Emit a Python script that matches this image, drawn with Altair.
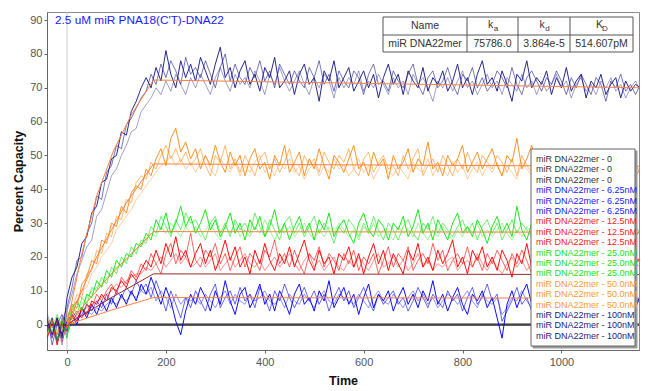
import altair as alt
import pandas as pd

FONT = "Liberation Sans"

# sample times (s): -40 ... 1160 every 10 s
TIME = list(range(-40, 1161, 10))

# ---- traces (Percent Capacity) ----
ZERO_1 = [0] * 121
ZERO_2 = [0] * 121
ZERO_3 = [0] * 121

B625_1 = [0, -4, 2, -3, 1, 3, 0, 5, 2, 6,
          3, 7, 4, 8, 5, 9, 6, 10, 7, 12,
          9, 14, 10, 6, 11, 7, 1, -3, 4, 9,
          6, 11, 8, 4, 10, 6, 13, 7, 3, 9,
          11, 5, 8, 12, 6, 9, 4, 10, 7, 3,
          9, 12, 6, 8, 4, 10, 7, 13, 5, 8,
          11, 6, 9, 3, 8, 12, 5, 9, 7, 10,
          4, 8, 11, 6, 9, 5, 10, 7, 13, 6,
          9, 4, 8, 11, 6, 3, 9, 7, 10, 5,
          8, 2, -4, 6, 10, 5, 9, 12, 6, 8,
          4, 9, 7, 11, 5, 8, 3, 10, 6, 9,
          7, 11, 5, 8, 4, 9, 12, 6, 8, 5,
          9]
B625_2 = [2, -6, 0, 3, -2, 4, 2, 3, 6, 4,
          7, 5, 9, 6, 10, 8, 11, 9, 13, 10,
          12, 8, 13, 9, 4, 10, 6, 2, 8, 5,
          10, 7, 4, 9, 12, 5, 8, 10, 6, 11,
          7, 9, 5, 11, 8, 4, 10, 7, 12, 8,
          5, 8, 11, 7, 10, 6, 9, 4, 8, 11,
          7, 10, 5, 8, 11, 7, 4, 9, 6, 8,
          10, 6, 8, 4, 7, 11, 8, 5, 9, 7,
          5, 10, 7, 9, 4, 8, 11, 6, 8, 12,
          7, 9, 1, 4, 7, 11, 6, 8, 4, 10,
          8, 5, 11, 7, 9, 4, 8, 6, 10, 7,
          9, 6, 8, 12, 7, 5, 9, 7, 4, 8,
          6]
B625_3 = [-2, 1, -4, 0, -3, 1, 3, 2, 4, 3,
          5, 4, 6, 7, 6, 8, 7, 9, 8, 10,
          9, 11, 7, 10, 8, 5, 9, 6, 8, 7,
          8, 6, 9, 7, 5, 8, 10, 6, 9, 7,
          6, 9, 7, 8, 10, 7, 6, 8, 5, 9,
          7, 6, 9, 7, 5, 8, 10, 7, 6, 9,
          8, 7, 6, 9, 7, 5, 8, 10, 7, 6,
          9, 7, 5, 8, 10, 7, 9, 6, 8, 5,
          7, 9, 8, 6, 8, 10, 7, 5, 9, 7,
          6, 8, 3, 5, 8, 7, 10, 7, 5, 8,
          9, 7, 6, 8, 10, 7, 5, 8, 7, 9,
          6, 8, 10, 7, 5, 8, 7, 9, 6, 8,
          7]

R125_1 = [-4, 1, -6, 0, -2, 3, 1, 5, 3, 7,
          6, 9, 7, 11, 10, 13, 11, 15, 13, 16,
          19, 17, 22, 18, 24, 20, 26, 19, 22, 17,
          21, 24, 18, 22, 16, 20, 25, 19, 23, 17,
          20, 15, 22, 18, 24, 19, 16, 21, 18, 23,
          17, 21, 25, 19, 16, 22, 18, 20, 15, 21,
          19, 23, 17, 21, 15, 20, 24, 18, 22, 16,
          21, 18, 15, 22, 19, 24, 17, 20, 16, 22,
          18, 21, 25, 17, 20, 15, 22, 19, 23, 17,
          20, 16, 22, 19, 14, 21, 18, 24, 17, 20,
          18, 22, 16, 20, 23, 17, 21, 15, 19, 22,
          17, 20, 23, 18, 15, 21, 19, 16, 22, 18,
          20]
R125_2 = [2, -3, 1, -5, 0, 2, 4, 2, 6, 5,
          9, 7, 10, 12, 9, 14, 12, 16, 14, 18,
          16, 21, 18, 15, 21, 24, 18, 22, 20, 27,
          19, 17, 22, 20, 24, 18, 21, 16, 20, 23,
          17, 21, 19, 16, 22, 20, 25, 18, 21, 17,
          22, 18, 15, 21, 19, 23, 17, 21, 19, 16,
          21, 18, 22, 16, 20, 18, 21, 15, 19, 23,
          17, 21, 19, 23, 16, 19, 21, 18, 24, 19,
          22, 16, 19, 21, 18, 23, 17, 20, 16, 21,
          18, 22, 19, 16, 21, 18, 22, 19, 15, 21,
          20, 17, 21, 19, 15, 20, 18, 22, 17, 19,
          21, 18, 16, 20, 22, 17, 19, 21, 17, 20,
          18]
R125_3 = [-1, 0, -3, 1, -1, 1, 2, 4, 5, 6,
          7, 8, 9, 10, 12, 11, 13, 14, 15, 15,
          17, 16, 18, 20, 17, 19, 21, 18, 20, 17,
          18, 20, 17, 19, 21, 16, 18, 20, 17, 19,
          21, 18, 17, 19, 16, 18, 20, 17, 19, 21,
          18, 16, 19, 21, 17, 19, 16, 18, 20, 17,
          16, 19, 17, 20, 18, 16, 19, 21, 17, 18,
          20, 17, 19, 16, 18, 21, 17, 19, 16, 18,
          17, 19, 20, 16, 18, 19, 17, 21, 18, 16,
          19, 17, 15, 18, 20, 17, 19, 16, 18, 20,
          17, 19, 18, 16, 19, 21, 17, 18, 16, 19,
          18, 16, 19, 17, 20, 18, 16, 19, 17, 18,
          17]

G25_1 = [-3, 2, -5, 1, -4, 5, 7, 4, 9, 8,
         13, 11, 16, 14, 19, 17, 21, 20, 24, 23,
         27, 25, 31, 28, 33, 27, 30, 35, 29, 32,
         27, 30, 34, 28, 31, 26, 29, 33, 27, 30,
         25, 31, 28, 32, 26, 29, 34, 27, 30, 25,
         29, 32, 27, 30, 25, 31, 28, 33, 26, 29,
         31, 27, 24, 30, 33, 28, 26, 31, 29, 25,
         30, 28, 32, 26, 29, 34, 27, 30, 25, 31,
         28, 25, 30, 33, 27, 29, 26, 31, 28, 24,
         29, 32, 27, 30, 26, 35, 28, 25, 30, 27,
         31, 26, 29, 27, 32, 25, 28, 30, 26, 29,
         27, 31, 25, 29, 33, 27, 24, 29, 31, 26,
         28]
G25_2 = [1, -2, 3, -1, 2, 6, 3, 8, 6, 11,
         10, 14, 12, 17, 15, 20, 18, 23, 21, 25,
         24, 29, 27, 32, 29, 26, 31, 28, 33, 30,
         31, 28, 25, 30, 32, 27, 30, 26, 31, 28,
         30, 27, 33, 29, 26, 31, 28, 25, 30, 32,
         27, 30, 26, 29, 32, 27, 30, 28, 24, 29,
         27, 31, 29, 26, 30, 27, 32, 28, 25, 30,
         28, 25, 29, 31, 27, 25, 30, 28, 32, 27,
         30, 28, 26, 29, 31, 27, 30, 25, 29, 31,
         27, 30, 25, 28, 31, 27, 30, 28, 26, 30,
         28, 31, 27, 25, 29, 31, 26, 29, 27, 31,
         29, 26, 30, 28, 25, 30, 28, 31, 27, 29,
         27]
G25_3 = [0, 1, -2, 2, 0, 3, 5, 6, 8, 10,
         11, 12, 14, 15, 17, 18, 19, 21, 22, 24,
         25, 27, 26, 29, 27, 30, 28, 26, 29, 27,
         29, 26, 28, 30, 27, 25, 29, 27, 30, 26,
         28, 26, 29, 27, 31, 28, 25, 28, 27, 29,
         26, 28, 30, 27, 25, 28, 26, 29, 27, 30,
         28, 26, 28, 25, 29, 27, 30, 26, 28, 27,
         25, 29, 27, 28, 26, 30, 27, 25, 28, 26,
         29, 27, 25, 28, 26, 29, 27, 30, 26, 28,
         26, 28, 30, 27, 25, 28, 26, 29, 27, 25,
         29, 27, 25, 28, 30, 27, 29, 26, 28, 27,
         25, 28, 27, 30, 26, 28, 25, 27, 29, 26,
         28]

O50_1 = [-2, 1, -3, 2, 1, 6, 5, 12, 14, 19,
         18, 25, 24, 30, 29, 35, 33, 39, 41, 40,
         46, 44, 49, 52, 47, 55, 58, 51, 54, 49,
         52, 46, 50, 47, 53, 48, 45, 51, 47, 50,
         44, 49, 52, 46, 48, 43, 50, 47, 53, 45,
         48, 51, 44, 49, 46, 52, 47, 43, 50, 48,
         45, 49, 53, 46, 48, 44, 51, 47, 49, 43,
         50, 46, 48, 52, 45, 49, 47, 54, 46, 48,
         44, 50, 47, 49, 53, 45, 48, 51, 46, 49,
         52, 47, 44, 50, 48, 55, 46, 49, 53, 47,
         45, 49, 52, 46, 48, 44, 50, 47, 51, 45,
         48, 44, 49, 46, 50, 43, 47, 45, 49, 44,
         46]
O50_2 = [1, -4, 2, -1, 3, 4, 9, 8, 15, 16,
         22, 21, 27, 26, 32, 31, 37, 36, 42, 44,
         43, 48, 46, 50, 53, 49, 52, 48, 51, 47,
         49, 52, 47, 44, 50, 48, 53, 46, 49, 45,
         50, 47, 44, 49, 51, 46, 49, 45, 48, 52,
         46, 44, 50, 47, 49, 45, 51, 48, 46, 50,
         48, 52, 46, 44, 49, 51, 45, 48, 50, 46,
         47, 44, 50, 46, 49, 52, 44, 47, 49, 45,
         50, 47, 44, 49, 46, 51, 47, 45, 50, 48,
         46, 50, 48, 45, 49, 44, 50, 47, 45, 49,
         48, 45, 47, 50, 44, 48, 46, 51, 45, 47,
         45, 49, 46, 44, 48, 45, 47, 43, 46, 48,
         44]
O50_3 = [0, 2, 0, -2, 4, 2, 7, 10, 11, 15,
         17, 20, 22, 24, 28, 30, 32, 34, 37, 39,
         41, 43, 45, 47, 48, 50, 47, 49, 46, 48,
         45, 48, 50, 46, 44, 49, 47, 45, 48, 44,
         47, 45, 48, 50, 45, 47, 44, 48, 46, 49,
         45, 47, 43, 46, 48, 44, 47, 45, 49, 46,
         47, 44, 46, 49, 45, 47, 43, 46, 48, 45,
         44, 47, 45, 43, 48, 46, 45, 49, 44, 47,
         46, 44, 48, 45, 47, 43, 46, 48, 44, 47,
         45, 48, 44, 47, 45, 43, 48, 46, 44, 47,
         46, 43, 47, 45, 48, 44, 46, 43, 47, 45,
         44, 47, 45, 42, 46, 44, 47, 45, 43, 46,
         45]

N100_1 = [1, -3, 2, -4, 8, 14, 17, 24, 26, 33,
          35, 42, 43, 49, 50, 57, 56, 63, 66, 70,
          73, 70, 76, 72, 81, 74, 70, 78, 73, 77,
          72, 79, 75, 71, 77, 82, 73, 76, 70, 75,
          78, 71, 74, 69, 76, 73, 79, 70, 72, 75,
          68, 74, 77, 71, 73, 66, 75, 72, 78, 70,
          73, 76, 69, 72, 75, 70, 74, 67, 73, 77,
          71, 74, 68, 75, 72, 70, 76, 69, 73, 71,
          75, 69, 72, 77, 70, 73, 68, 74, 78, 71,
          73, 69, 75, 71, 66, 74, 72, 78, 70, 73,
          71, 75, 68, 73, 70, 76, 69, 72, 74, 67,
          72, 70, 74, 68, 71, 73, 67, 72, 69, 71,
          70]
N100_2 = [-2, 2, -5, 1, 5, 11, 19, 20, 27, 30,
          38, 37, 45, 47, 53, 52, 59, 61, 64, 67,
          69, 74, 71, 77, 73, 78, 75, 71, 79, 74,
          76, 73, 78, 74, 70, 76, 80, 72, 77, 73,
          71, 76, 73, 78, 72, 75, 70, 77, 74, 71,
          75, 72, 70, 76, 73, 78, 71, 74, 69, 75,
          72, 70, 75, 73, 68, 74, 77, 71, 72, 69,
          75, 72, 70, 74, 77, 71, 68, 73, 75, 70,
          72, 76, 71, 68, 74, 72, 76, 70, 73, 69,
          71, 75, 73, 70, 76, 71, 68, 73, 75, 72,
          69, 73, 71, 75, 72, 68, 73, 70, 74, 71,
          68, 73, 71, 66, 72, 70, 74, 69, 71, 68,
          71]
N100_3 = [3, -1, 1, -6, 4, 9, 15, 19, 23, 25,
          32, 34, 39, 44, 46, 50, 53, 57, 58, 63,
          65, 67, 70, 68, 72, 69, 74, 71, 68, 73,
          70, 74, 71, 68, 73, 76, 72, 69, 74, 71,
          73, 70, 75, 72, 68, 74, 71, 76, 72, 69,
          72, 75, 71, 68, 73, 70, 74, 72, 67, 73,
          70, 73, 71, 75, 69, 72, 70, 74, 71, 68,
          73, 70, 72, 68, 74, 71, 73, 70, 66, 72,
          70, 73, 69, 72, 75, 70, 72, 68, 71, 74,
          70, 72, 68, 73, 71, 69, 74, 70, 72, 68,
          72, 69, 71, 74, 70, 72, 67, 71, 73, 69,
          71, 68, 72, 70, 73, 69, 71, 67, 70, 72,
          69]

# ---- fitted curves ----
FIT_100_T = [0, 30, 60, 93, 130, 175, 1160]
FIT_100_V = [0, 21, 38, 51, 62, 72.3, 70.0]
FIT_50_T = [0, 60, 120, 175, 1160]
FIT_50_V = [0, 20, 36, 47.5, 46.8]
FIT_25_T = [0, 90, 175, 1160]
FIT_25_V = [0, 15, 27.5, 27.3]
FIT_125_T = [0, 90, 175, 1160]
FIT_125_V = [0, 8, 15, 14.8]
FIT_625_T = [0, 90, 175, 1160]
FIT_625_V = [0, 4.3, 8, 7.8]

CONCS = ["0", "6.25nM", "12.5nM", "25.0nM", "50.0nM", "100nM"]
TRACES = {
    "0": [ZERO_1, ZERO_2, ZERO_3],
    "6.25nM": [B625_1, B625_2, B625_3],
    "12.5nM": [R125_1, R125_2, R125_3],
    "25.0nM": [G25_1, G25_2, G25_3],
    "50.0nM": [O50_1, O50_2, O50_3],
    "100nM": [N100_1, N100_2, N100_3],
}
FITS = [
    ("6.25nM", FIT_625_T, FIT_625_V),
    ("12.5nM", FIT_125_T, FIT_125_V),
    ("25.0nM", FIT_25_T, FIT_25_V),
    ("50.0nM", FIT_50_T, FIT_50_V),
    ("100nM", FIT_100_T, FIT_100_V),
]

# ---- styles ----
TRACE_COLOR = {"0": "#444444", "6.25nM": "#0000ff", "12.5nM": "#ff0000",
               "25.0nM": "#11e611", "50.0nM": "#ff8c1a", "100nM": "#1c1c88"}
LEGEND_COLOR = {"0": "#333333", "6.25nM": "#2020ff", "12.5nM": "#ff2020",
                "25.0nM": "#22dd22", "50.0nM": "#ff9933", "100nM": "#1c1c80"}
FIT_COLOR = {"6.25nM": "#ff8040", "12.5nM": "#a02828", "25.0nM": "#ff8040",
             "50.0nM": "#ff8040", "100nM": "#ff8040"}
REP_OPACITY = [0.95, 0.6, 0.42]

rows = []
for ci, conc in enumerate(CONCS):
    for ri, vals in enumerate(TRACES[conc]):
        for t, v in zip(TIME, vals):
            rows.append({"t": t, "v": v, "key": f"{ci}_{ri}",
                         "color": TRACE_COLOR[conc],
                         "op": 1.0 if conc == "0" else REP_OPACITY[ri],
                         "sw": 1.6 if conc == "0" else 1.0})
traces_df = pd.DataFrame(rows)

frows = []
for fi, (conc, ts, vs) in enumerate(FITS):
    for t, v in zip(ts, vs):
        frows.append({"t": t, "v": v, "key": f"f{fi}", "color": FIT_COLOR[conc]})
fits_df = pd.DataFrame(frows)

x_scale = alt.Scale(domain=[-40.5, 1157], nice=False, zero=False)
y_scale = alt.Scale(domain=[-7.5, 92.4], nice=False, zero=False)
x_axis = alt.Axis(title="Time", values=[0, 200, 400, 600, 800, 1000], format="d",
                  grid=False, tickSize=3, labelPadding=3, titlePadding=7)
y_axis = alt.Axis(title="Percent Capacity", values=list(range(0, 91, 10)),
                  grid=False, tickSize=3, labelPadding=2, titleX=-22)

vrule = alt.Chart(pd.DataFrame({"t": [0]})).mark_rule(color="#cccccc", strokeWidth=1).encode(
    x=alt.X("t:Q", scale=x_scale, axis=x_axis))

traces = alt.Chart(traces_df).mark_line(clip=True, interpolate="linear").encode(
    x=alt.X("t:Q", scale=x_scale, axis=x_axis),
    y=alt.Y("v:Q", scale=y_scale, axis=y_axis),
    detail="key:N",
    color=alt.Color("color:N", scale=None),
    opacity=alt.Opacity("op:Q", scale=None),
    strokeWidth=alt.StrokeWidth("sw:Q", scale=None),
)

fits = alt.Chart(fits_df).mark_line(clip=True, strokeWidth=1).encode(
    x=alt.X("t:Q", scale=x_scale, axis=x_axis),
    y=alt.Y("v:Q", scale=y_scale, axis=y_axis),
    detail="key:N",
    color=alt.Color("color:N", scale=None),
)


def txt(s, x, y, size=10.5, color="#333333", align="center", weight="normal"):
    return alt.Chart(pd.DataFrame({"s": [s]})).mark_text(
        fontSize=size, color=color, align=align, baseline="middle",
        font=FONT, fontWeight=weight).encode(
        x=alt.value(x), y=alt.value(y), text="s:N")


def box(x1, y1, x2, y2, fill, stroke, sw=1):
    return alt.Chart(pd.DataFrame({"a": [0]})).mark_rect(
        fill=fill, stroke=stroke, strokeWidth=sw).encode(
        x=alt.value(x1), x2=alt.value(x2), y=alt.value(y1), y2=alt.value(y2))


def vline(x, y1, y2, color="#555555"):
    return alt.Chart(pd.DataFrame({"a": [0]})).mark_rule(color=color, strokeWidth=1).encode(
        x=alt.value(x), y=alt.value(y1), y2=alt.value(y2))


def hline(x1, x2, y, color="#555555"):
    return alt.Chart(pd.DataFrame({"a": [0]})).mark_rule(color=color, strokeWidth=1).encode(
        x=alt.value(x1), x2=alt.value(x2), y=alt.value(y))


deco = []
# title inside plot
deco.append(txt("2.5 uM miR PNA18(C'T)-DNA22", 8, 8, size=11.8, color="#1a1aff", align="left"))

# kinetics table
TABLE_COLS = [336, 420, 471, 523, 586]
deco.append(box(336, 5, 586, 40, "white", "#555555"))
for cx in TABLE_COLS[1:-1]:
    deco.append(vline(cx, 5, 40))
deco.append(hline(336, 586, 23))
deco.append(txt("Name", 378, 14))
for cx, big, sub in [(445.5, "k", "a"), (497, "k", "d"), (554.5, "K", "D")]:
    deco.append(txt(big, cx - 2, 13))
    deco.append(txt(sub, cx + 3.5, 17, size=8))
deco.append(txt("miR DNA22mer", 378, 32))
deco.append(txt("75786.0", 445.5, 32))
deco.append(txt("3.864e-5", 497, 32))
deco.append(txt("514.607pM", 554.5, 32))

# legend
deco.append(box(486, 139, 590, 336, "#9a9a9a", "#9a9a9a"))
deco.append(box(484, 137, 588, 334, "white", "#666666"))
i = 0
for conc in CONCS:
    for r in range(3):
        deco.append(txt(f"miR DNA22mer - {conc}", 489, 147 + i * 10.4, size=9,
                        color=LEGEND_COLOR[conc], align="left"))
        i += 1

chart = alt.layer(vrule, traces, fits, *deco).properties(
    width=592, height=338,
    padding={"left": 39, "top": 4, "right": 4, "bottom": 40},
    autosize=alt.AutoSizeParams(type="none"),
).configure_view(stroke="#8a8a8a", strokeWidth=1).configure_axis(
    domainColor="#666666", tickColor="#666666", labelColor="#555555",
    labelFont=FONT, labelFontSize=11, titleFont=FONT, titleFontSize=12.5,
    titleFontWeight="bold", titleColor="#111111",
)

chart.save("out.html", embed_options={"renderer": "svg", "actions": False})
